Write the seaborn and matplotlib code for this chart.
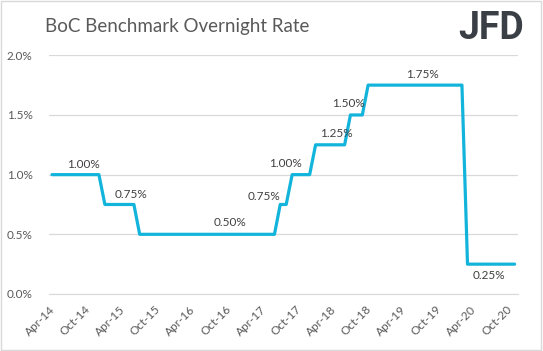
import seaborn as sns
import matplotlib.pyplot as plt
import matplotlib.dates as mdates
import matplotlib.transforms as mtransforms
from matplotlib.patches import Rectangle
import pandas as pd

# month-end overnight rate (%), Apr-2014 .. Nov-2020
rate_2014 = [1.00, 1.00, 1.00, 1.00, 1.00, 1.00, 1.00, 1.00, 1.00]            # Apr-Dec
rate_2015 = [0.75, 0.75, 0.75, 0.75, 0.75, 0.75, 0.50, 0.50, 0.50, 0.50, 0.50, 0.50]
rate_2016 = [0.50, 0.50, 0.50, 0.50, 0.50, 0.50, 0.50, 0.50, 0.50, 0.50, 0.50, 0.50]
rate_2017 = [0.50, 0.50, 0.50, 0.50, 0.50, 0.50, 0.75, 0.75, 1.00, 1.00, 1.00, 1.00]
rate_2018 = [1.25, 1.25, 1.25, 1.25, 1.25, 1.25, 1.50, 1.50, 1.50, 1.75, 1.75, 1.75]
rate_2019 = [1.75, 1.75, 1.75, 1.75, 1.75, 1.75, 1.75, 1.75, 1.75, 1.75, 1.75, 1.75]
rate_2020 = [1.75, 1.75, 0.25, 0.25, 0.25, 0.25, 0.25, 0.25, 0.25, 0.25, 0.25]  # Jan-Nov

rates = rate_2014 + rate_2015 + rate_2016 + rate_2017 + rate_2018 + rate_2019 + rate_2020
months = pd.date_range("2014-04-01", "2020-11-01", freq="MS") + pd.Timedelta(days=14)
df = pd.DataFrame({"month": months, "rate": rates})

# data labels
label_text = ["1.00%", "0.75%", "0.50%", "0.75%", "1.00%", "1.25%", "1.50%", "1.75%", "0.25%"]
label_date = ["2014-09-24", "2015-06-01", "2016-10-28", "2017-04-20", "2017-08-10",
              "2018-05-01", "2018-07-05", "2019-07-22", "2020-07-04"]
label_y = [1.081, 0.835, 0.603, 0.815, 1.095, 1.346, 1.592, 1.835, 0.159]

sns.set_style("white")
plt.rcParams["font.family"] = ["Lato", "DejaVu Sans"]

fig = plt.figure(figsize=(5.43, 3.51), dpi=100)
ax = fig.add_axes([0.0908, 0.1624, 0.9534 - 0.0908, 0.8425 - 0.1624])

sns.lineplot(data=df, x="month", y="rate", ax=ax, color="#12B4DB", linewidth=2.3)

ax.set_xlim(pd.Timestamp("2014-04-01"), pd.Timestamp("2020-12-01"))
ax.set_ylim(0, 2.0)
ax.set_yticks([0, 0.5, 1.0, 1.5, 2.0])
ax.set_yticklabels(["0.0%", "0.5%", "1.0%", "1.5%", "2.0%"])
ax.grid(axis="y", color="#d9d9d9", linewidth=0.9)
ax.set_axisbelow(True)

ax.xaxis.set_major_locator(mdates.MonthLocator(bymonth=[4, 10]))
ax.xaxis.set_major_formatter(mdates.DateFormatter("%b-%y"))
shift = mtransforms.ScaledTranslation(4 / 100, 0, fig.dpi_scale_trans)
for lbl in ax.get_xticklabels():
    lbl.set_rotation(45)
    lbl.set_ha("right")
    lbl.set_rotation_mode("anchor")
    lbl.set_transform(lbl.get_transform() + shift)

for s in ["top", "right", "left"]:
    ax.spines[s].set_visible(False)
ax.spines["bottom"].set_color("#d9d9d9")
ax.tick_params(axis="x", colors="#d9d9d9", labelcolor="#595959", length=4, width=0.9,
               labelsize=8.5, pad=3)
ax.tick_params(axis="y", length=0, labelcolor="#595959", labelsize=8.5, pad=12)
ax.set_xlabel("")
ax.set_ylabel("")

for t, d, y in zip(label_text, label_date, label_y):
    ax.text(pd.Timestamp(d), y, t, ha="center", va="center", fontsize=8.5, color="#404040")

fig.text(0.082, 0.925, "BoC Benchmark Overnight Rate", fontsize=13.5, color="#595959",
         va="center", ha="left")
fig.text(0.965, 0.92, "JFD", fontsize=27, fontweight="bold", color="#3a3e45",
         va="center", ha="right", family=["Roboto", "DejaVu Sans"])

fig.patches.append(Rectangle((0.002, 0.003), 0.994, 0.994, transform=fig.transFigure,
                             fill=False, edgecolor="#d9d9d9", linewidth=1))

fig.savefig("out.png", dpi=100)
